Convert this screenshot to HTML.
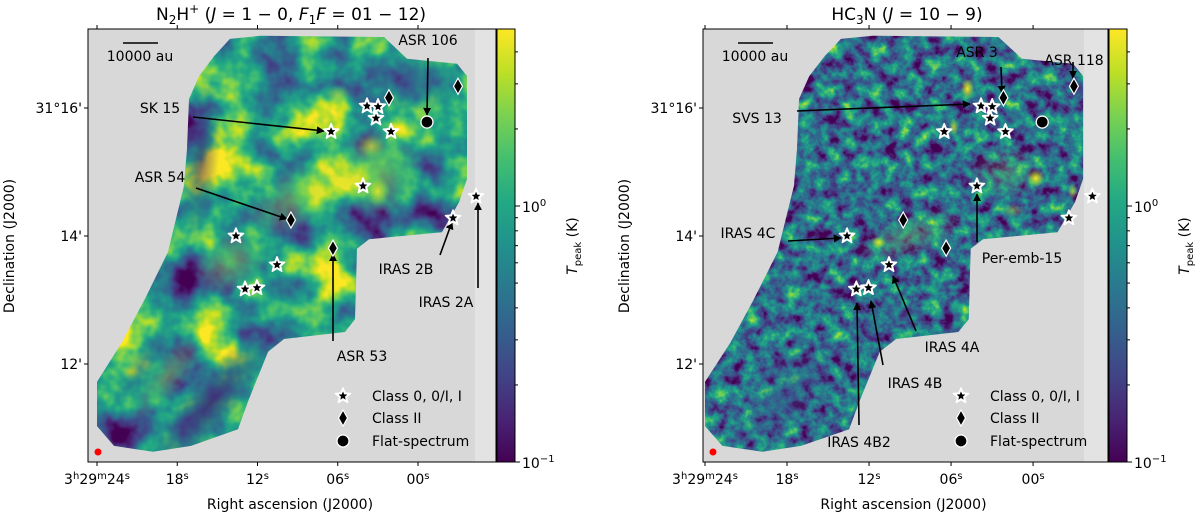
<!DOCTYPE html>
<html><head><meta charset="utf-8"><style>
html,body{margin:0;padding:0;background:#fff;}
svg{display:block;font-family:"DejaVu Sans","Liberation Sans",sans-serif;}
</style></head><body>
<svg id="fig" width="1200" height="517" viewBox="0 0 1200 517" xmlns="http://www.w3.org/2000/svg">
<defs>
<linearGradient id="vir" x1="0" y1="1" x2="0" y2="0">
<stop offset="0" stop-color="#440154"/><stop offset="0.1" stop-color="#482475"/><stop offset="0.2" stop-color="#414487"/><stop offset="0.3" stop-color="#355f8d"/><stop offset="0.4" stop-color="#2a788e"/><stop offset="0.5" stop-color="#21918c"/><stop offset="0.6" stop-color="#22a884"/><stop offset="0.7" stop-color="#44bf70"/><stop offset="0.8" stop-color="#7ad151"/><stop offset="0.9" stop-color="#bddf26"/><stop offset="1" stop-color="#fde725"/>
</linearGradient>
<radialGradient id="gYel"><stop offset="0" stop-color="#fde725" stop-opacity="1"/><stop offset="0.5" stop-color="#bddf26" stop-opacity="0.6"/><stop offset="1" stop-color="#7ad151" stop-opacity="0"/></radialGradient>
<radialGradient id="gGrn"><stop offset="0" stop-color="#9ad83c" stop-opacity="0.8"/><stop offset="1" stop-color="#7ad151" stop-opacity="0"/></radialGradient>
<radialGradient id="gPur"><stop offset="0" stop-color="#46166e" stop-opacity="0.85"/><stop offset="1" stop-color="#414487" stop-opacity="0"/></radialGradient>
<radialGradient id="gBlu"><stop offset="0" stop-color="#3b4f8c" stop-opacity="0.7"/><stop offset="1" stop-color="#355f8d" stop-opacity="0"/></radialGradient>
<filter id="noiseL" filterUnits="userSpaceOnUse" x="88" y="29" width="409" height="434" color-interpolation-filters="sRGB">
<feTurbulence type="fractalNoise" baseFrequency="0.02" numOctaves="4" seed="3"/>
<feColorMatrix type="matrix" values="1.7 0 0 0 -0.28  1.7 0 0 0 -0.28  1.7 0 0 0 -0.28  0 0 0 0 1"/>
<feComponentTransfer>
<feFuncR type="table" tableValues="0.267 0.283 0.255 0.208 0.165 0.129 0.133 0.267 0.478 0.741 0.992"/>
<feFuncG type="table" tableValues="0.004 0.141 0.267 0.373 0.471 0.569 0.659 0.749 0.820 0.875 0.906"/>
<feFuncB type="table" tableValues="0.329 0.459 0.529 0.553 0.557 0.549 0.518 0.439 0.318 0.149 0.145"/>
</feComponentTransfer>
</filter>
<filter id="noiseR" filterUnits="userSpaceOnUse" x="703" y="29" width="406" height="434" color-interpolation-filters="sRGB">
<feTurbulence type="fractalNoise" baseFrequency="0.07" numOctaves="5" seed="7"/>
<feColorMatrix type="matrix" values="1.4 0 0 0 -0.34  1.4 0 0 0 -0.34  1.4 0 0 0 -0.34  0 0 0 0 1"/>
<feComponentTransfer>
<feFuncR type="table" tableValues="0.267 0.283 0.255 0.208 0.165 0.129 0.133 0.267 0.478 0.741 0.992"/>
<feFuncG type="table" tableValues="0.004 0.141 0.267 0.373 0.471 0.569 0.659 0.749 0.820 0.875 0.906"/>
<feFuncB type="table" tableValues="0.329 0.459 0.529 0.553 0.557 0.549 0.518 0.439 0.318 0.149 0.145"/>
</feComponentTransfer>
</filter>
<marker id="ah" viewBox="0 0 10 10" refX="9" refY="5" markerWidth="5" markerHeight="5" orient="auto-start-reverse"><path d="M0,0 L10,5 L0,10 z" fill="#000"/></marker>
<clipPath id="clipL"><path id="fpL"/></clipPath>
<clipPath id="clipR"><path id="fpR"/></clipPath>
</defs>

<g id="panelL"></g>
<g id="panelR"></g>
</svg>
<script>
// ---- data (RA seconds past 3h29m, Dec arcmin past 31deg) ----
const starRA  = [3.81, 2.99, 3.14, 2.02, 6.50, 4.11, -4.34, -2.62, 13.61, 10.54, 12.93, 12.04];
const starDec = [16.03,16.02,15.84,15.63,15.63,14.78,14.62, 14.28, 14.00, 13.55, 13.17, 13.19];
const diaRA   = [2.17, -2.99, 9.50, 6.36];
const diaDec  = [16.16, 16.34, 14.25, 13.81];
const flatRA  = [-0.67];
const flatDec = [15.78];
const raTicks = [24, 18, 12, 6, 0];
const raTickLabels = ["3h29m24s","18s","12s","06s","00s"];
const decTicks = [16, 14, 12];
const decTickLabels = ["31°16'","14'","12'"];
const cbMajor = [1, 0.1];
const cbMinor = [2,3,4,0.2,0.3,0.4,0.5,0.6,0.7,0.8,0.9];
// footprint outline (RA s, Dec ')
const fpRA  = [14.06,11.74,2.54,0.82,-2.92,-3.66,-3.66,-3.07,-1.79,3.66,4.56,4.71,5.46,10.02,11.21,12.64,13.46,16.97,19.81,22.73,24.0,24.0,22.13,20.41,18.69,18.09,17.50,17.27,17.12,16.37,15.25];
const fpDec = [17.08,17.13,17.11,16.77,16.69,16.50,14.89,14.53,14.06,13.95,13.80,12.70,12.50,12.39,12.19,11.45,10.98,10.72,10.63,10.72,11.03,11.72,12.34,13.02,13.75,14.27,14.78,15.36,16.14,16.50,16.81];

const NS = "http://www.w3.org/2000/svg";
function mk(tag, attrs, parent){const e=document.createElementNS(NS,tag);for(const k in attrs)e.setAttribute(k,attrs[k]);parent.appendChild(e);return e;}

function buildPanel(g, P){
  const xS = ra => P.x24 + (24-ra)*P.kx;
  const yS = d => 108 + (16-d)*64;
  const top=29, bot=462;
  const bg=mk('rect',{x:P.ax0,y:top,width:P.ax1-P.ax0,height:bot-top,fill:'#d8d8d8'},g);
  
  
  const lt=mk('rect',{x:P.light,y:top,width:P.ax1-P.light,height:bot-top,fill:'#e3e3e3'},g);
  
  
  let d='';
  for(let i=0;i<fpRA.length;i++){d+=(i?'L':'M')+xS(fpRA[i]).toFixed(1)+','+yS(fpDec[i]).toFixed(1);}
  d+='Z';
  document.getElementById(P.fpId).setAttribute('d',d);
  const map=mk('g',{'clip-path':'url(#'+P.clip+')'},g);
  
  
  mk('rect',{x:P.ax0,y:top,width:P.ax1-P.ax0,height:bot-top,filter:'url(#'+P.noise+')'},map);
  P.blobs.forEach(b=>{mk('ellipse',{cx:xS(b[0]),cy:yS(b[1]),rx:b[2],ry:b[3],fill:'url(#'+b[4]+')',opacity:b[5],transform:'rotate('+b[6]+' '+xS(b[0])+' '+yS(b[1])+')'},map);});
  const fr=mk('rect',{x:P.ax0,y:top,width:P.ax1-P.ax0,height:bot-top,fill:'none',stroke:'#000','stroke-width':1},g);
  
  
  raTicks.forEach((t,i)=>{
    const x=xS(t);
    mk('line',{x1:x,y1:bot,x2:x,y2:bot+4,stroke:'#000'},g);
    mk('line',{x1:x,y1:top,x2:x,y2:top-4,stroke:'#000'},g);
    const lab=raTickLabels[i];
    const tx=mk('text',{x:x,y:484,'font-size':14,'text-anchor':'middle'},g);
    
    
    if(i===0){tx.innerHTML='3<tspan dy="-5" font-size="10">h</tspan><tspan dy="5">29</tspan><tspan dy="-5" font-size="10">m</tspan><tspan dy="5">24</tspan><tspan dy="-5" font-size="10">s</tspan>';}
    else{tx.innerHTML=lab.slice(0,2)+'<tspan dy="-5" font-size="10">s</tspan>';}
  });
  decTicks.forEach((t,i)=>{
    const y=yS(t);
    mk('line',{x1:P.ax0,y1:y,x2:P.ax0-4,y2:y,stroke:'#000'},g);
    const tx=mk('text',{x:P.ax0-6,y:y+5,'font-size':14,'text-anchor':'end'},g);
    
    
    tx.textContent=decTickLabels[i];
  });
  const xt=mk('text',{x:(P.ax0+P.ax1)/2-2,y:509,'font-size':14,'text-anchor':'middle'},g);
  
  
  xt.textContent='Right ascension (J2000)';
  const yt=mk('text',{x:0,y:0,'font-size':14,'text-anchor':'middle',transform:'translate('+(P.ax0-74)+',246) rotate(-90)'},g);
  
  
  yt.textContent='Declination (J2000)';
  const tt=mk('text',{x:P.titleX,y:20,'font-size':17,'text-anchor':'middle'},g);
  
  
  tt.innerHTML=P.title;
  mk('line',{x1:P.ax0+35,y1:43,x2:P.ax0+70,y2:43,stroke:'#000','stroke-width':1.5},g);
  const sb=mk('text',{x:P.ax0+52,y:61,'font-size':14,'text-anchor':'middle'},g);
  
  
  sb.textContent='10000 au';
  const bm=mk('circle',{cx:P.ax0+10,cy:452,r:3.5,fill:'#f00'},g);
  
  
  P.arrows.forEach(a=>{
    const l=mk('line',{x1:a[0],y1:a[1],x2:a[2],y2:a[3],stroke:'#000','stroke-width':1.6,'marker-end':'url(#ah)'},g);
    
    
  });
  P.labels.forEach(a=>{
    const t=mk('text',{x:a[1],y:a[2]+5,'font-size':14,'text-anchor':'middle'},g);
    
    
    t.textContent=a[0];
  });
  function star(cx,cy,r,fill,stroke,sw){
    let p='';for(let i=0;i<10;i++){const rr=i%2?r*0.45:r;const an=-Math.PI/2+i*Math.PI/5;p+=(i?'L':'M')+(cx+rr*Math.cos(an)).toFixed(2)+','+(cy+rr*Math.sin(an)).toFixed(2);}
    return mk('path',{d:p+'Z',fill:fill,stroke:stroke,'stroke-width':sw,'stroke-linejoin':'round'},g);
  }
  function drawStar(cx,cy){
    const s=star(cx,cy,8,'#fff','#fff',1.5);
    
    
    star(cx,cy,4.2,'#000','#000',0.3);
  }
  function drawDia(cx,cy){
    const s=mk('path',{d:`M${cx},${cy-8}L${cx+4.5},${cy}L${cx},${cy+8}L${cx-4.5},${cy}Z`,fill:'#000',stroke:'#fff','stroke-width':1.2},g);
    
    
  }
  function drawCirc(cx,cy){
    const s=mk('circle',{cx:cx,cy:cy,r:6,fill:'#000',stroke:'#fff','stroke-width':1.3},g);
    
    
  }
  starRA.forEach((r,i)=>drawStar(xS(r),yS(starDec[i])));
  diaRA.forEach((r,i)=>drawDia(xS(r),yS(diaDec[i])));
  flatRA.forEach((r,i)=>drawCirc(xS(r),yS(flatDec[i])));
  const lx=P.legX, rows=[396,418,441], names=['Class 0, 0/I, I','Class II','Flat-spectrum'];
  drawStar(lx,rows[0]); drawDia(lx,rows[1]); drawCirc(lx,rows[2]);
  rows.forEach((y,i)=>{
    const t=mk('text',{x:lx+29,y:y+5,'font-size':14},g);
    
    
    t.textContent=names[i];
  });
  const cx0=P.ax1+1, cw=18;
  const cb=mk('rect',{x:cx0,y:top,width:cw,height:bot-top,fill:'url(#vir)',stroke:'#000','stroke-width':1},g);
  
  
  const cy = v => 206 - 256*Math.log10(v);
  cbMajor.forEach((v,i)=>{
    const y = i===1 ? bot : cy(v);
    mk('line',{x1:cx0+cw,y1:y,x2:cx0+cw+5,y2:y,stroke:'#000'},g);
    const t=mk('text',{x:cx0+cw+7,y:y+6,'font-size':14},g);
    
    
    t.innerHTML = v===1 ? '10<tspan dy="-6" font-size="10">0</tspan>' : '10<tspan dy="-6" font-size="10">−1</tspan>';
  });
  cbMinor.forEach(v=>{const y=cy(v);mk('line',{x1:cx0+cw,y1:y,x2:cx0+cw+3,y2:y,stroke:'#000'},g);});
  const cl=mk('text',{x:0,y:0,'font-size':14,'text-anchor':'middle',transform:'translate('+(cx0+cw+62)+',246) rotate(-90)'},g);
  
  
  cl.innerHTML='<tspan font-style="italic">T</tspan><tspan dy="4" font-size="10">peak</tspan><tspan dy="-4"> (K)</tspan>';
}

buildPanel(document.getElementById('panelL'),{
  ax0:88, ax1:496, light:475, x24:97, kx:13.375, fpId:'fpL', clip:'clipL', noise:'noiseL', titleX:291,
  title:'N<tspan dy="4" font-size="12">2</tspan><tspan dy="-4">H</tspan><tspan dy="-7" font-size="12">+</tspan><tspan dy="7"> (</tspan><tspan font-style="italic">J</tspan> = 1 − 0, <tspan font-style="italic">F</tspan><tspan dy="4" font-size="12">1</tspan><tspan dy="-4" font-style="italic">F</tspan> = 01 − 12)',
  legX:343,
  blobs:[[15.5,11.4,25,90,'gPur',0.9,40],[16.2,15.2,18,80,'gPur',0.7,5],[0.3,16.4,45,30,'gBlu',0.8,0],[20.5,12.0,14,50,'gBlu',0.6,35],
         [3,15.0,45,45,'gGrn',0.7,0],[9,14.6,60,30,'gGrn',0.6,-30],[14,13.6,40,30,'gGrn',0.6,-30],[18.8,11.8,18,55,'gGrn',0.5,40],
         [6.9,15.8,10,12,'gYel',0.9,0],[3,14.7,12,16,'gYel',0.8,0],[3.5,15.4,14,12,'gYel',0.6,0],[6,16.2,14,10,'gYel',0.5,0]],
  arrows:[[193,117,324,131],[196,188,287,219],[428,58,427,115],[333,341,333,254],[440,255,452,222],[478,288,478,203]],
  labels:[['SK 15',160,108],['ASR 54',160,177],['ASR 106',428,40],['IRAS 2B',406,269],['IRAS 2A',446,302],['ASR 53',362,356]]
});
buildPanel(document.getElementById('panelR'),{
  ax0:703, ax1:1108, light:1084, x24:705, kx:13.67, fpId:'fpR', clip:'clipR', noise:'noiseR', titleX:907,
  title:'HC<tspan dy="4" font-size="12">3</tspan><tspan dy="-4">N (</tspan><tspan font-style="italic">J</tspan> = 10 − 9)',
  legX:961,
  blobs:[[18,11.5,30,70,'gBlu',0.7,40],[9,14.0,60,22,'gGrn',0.35,-20],[2,15.0,40,28,'gGrn',0.3,0],
         [4.8,16.3,7,11,'gYel',1,0],[-0.2,14.9,9,9,'gYel',1,0],[11.3,13.9,8,6,'gYel',0.9,0],[5.8,15.7,5,9,'gYel',0.7,0],[1.5,14.4,12,7,'gGrn',0.7,0],[-2.9,14.7,5,8,'gYel',0.6,0]],
  arrows:[[797,111,970,104],[1001,67,1002,93],[1073,62,1073,78],[788,241,841,238],[977,242,977,194],[916,331,893,276],[883,365,871,301],[859,425,857,303]],
  labels:[['SVS 13',757,118],['ASR 3',977,52],['ASR 118',1074,60],['IRAS 4C',748,233],['Per-emb-15',1022,258],['IRAS 4A',952,347],['IRAS 4B',915,383],['IRAS 4B2',859,442]]
});
</script>
</body></html>
